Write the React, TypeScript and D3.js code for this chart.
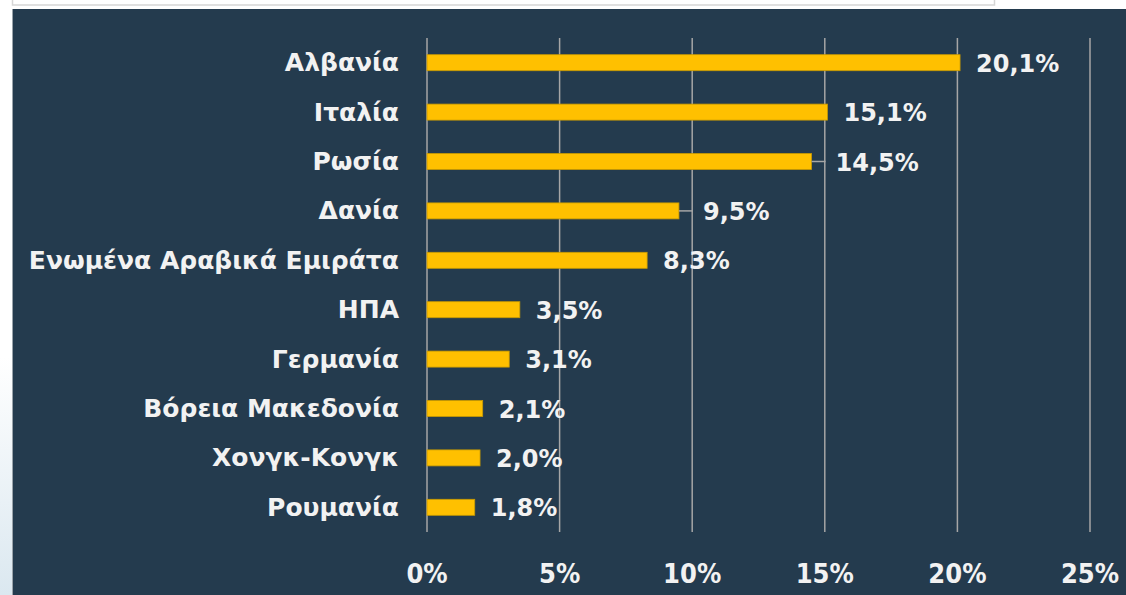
import React from "react";
import * as d3 from "d3";

const categories = [
  "Αλβανία",
  "Ιταλία",
  "Ρωσία",
  "Δανία",
  "Ενωμένα Αραβικά Εμιράτα",
  "ΗΠΑ",
  "Γερμανία",
  "Βόρεια Μακεδονία",
  "Χονγκ-Κονγκ",
  "Ρουμανία",
];
const values = [20.1, 15.1, 14.5, 9.5, 8.3, 3.5, 3.1, 2.1, 2.0, 1.8];
const ticks = [0, 5, 10, 15, 20, 25];

// labels nudged right with a leader line, as in the reference
const leaderNudge: Record<string, number> = { "Ρωσία": 8, "Δανία": 8 };

const W = 1126;
const H = 595;
const BG = "#243B4E";
const BAR = "#FFC000";
const GRID = "#A6A6A6";
const TXT = "#F2F2F2";
const FONT = "'DejaVu Sans', 'Noto Sans', sans-serif";
const FONT_TICK = "'DejaVu Sans Condensed', 'DejaVu Sans', sans-serif";

export default function App() {
  const x = d3.scaleLinear().domain([0, 25]).range([427, 1090]);
  const y = d3
    .scaleBand<string>()
    .domain(categories)
    .range([38, 532])
    .paddingInner(0.676)
    .paddingOuter(0.338);
  const fmt = (v: number) => v.toFixed(1).replace(".", ",") + "%";

  return (
    <div style={{ position: "fixed", left: 0, top: 0, width: W, height: H }}>
      <svg width={W} height={H} style={{ display: "block" }}>
        <defs>
          <linearGradient id="side" x1="0" y1="0" x2="0" y2="1">
            <stop offset="0" stopColor="#ffffff" />
            <stop offset="0.6" stopColor="#ffffff" />
            <stop offset="1" stopColor="#dbe8f0" />
          </linearGradient>
        </defs>
        <rect x={0} y={0} width={W} height={H} fill="#ffffff" />
        <rect x={0} y={0} width={12} height={H} fill="url(#side)" />
        <rect x={12.5} y={-2} width={982} height={7} fill="#ffffff" stroke="#d6d6d6" strokeWidth={1.5} />
        <rect x={12} y={9} width={W - 12} height={H - 9} fill={BG} />
        <line x1={12.5} x2={12.5} y1={9} y2={H} stroke="#9aa3aa" strokeWidth={1} />
        {ticks.map((t) => (
          <g key={t}>
            <line x1={x(t)} x2={x(t)} y1={38} y2={532} stroke={GRID} strokeWidth={1.5} />
            <text
              x={x(t)}
              y={573}
              textAnchor="middle"
              dominantBaseline="central"
              fill={TXT}
              fontFamily={FONT_TICK}
              fontWeight={700}
              fontSize={27}
            >
              {t}%
            </text>
          </g>
        ))}
        {categories.map((c, i) => {
          const v = values[i];
          const cy = (y(c) as number) + y.bandwidth() / 2;
          const nudge = leaderNudge[c] || 0;
          const lx = x(v) + 16 + nudge;
          return (
            <g key={c}>
              <rect
                x={x(0)}
                y={y(c)}
                width={x(v) - x(0)}
                height={y.bandwidth()}
                fill={BAR}
                stroke="#C99A00"
                strokeWidth={0.8}
              />
              {nudge > 0 && (
                <line x1={x(v)} x2={lx - 10} y1={cy} y2={cy} stroke={GRID} strokeWidth={1.5} />
              )}
              <text
                x={399}
                y={cy}
                textAnchor="end"
                dominantBaseline="central"
                fill={TXT}
                fontFamily={FONT}
                fontWeight={700}
                fontSize={25}
              >
                {c}
              </text>
              <text
                x={lx}
                y={cy + 1}
                textAnchor="start"
                dominantBaseline="central"
                fill={TXT}
                fontFamily={FONT}
                fontWeight={700}
                fontSize={24}
              >
                {fmt(v)}
              </text>
            </g>
          );
        })}
      </svg>
    </div>
  );
}
